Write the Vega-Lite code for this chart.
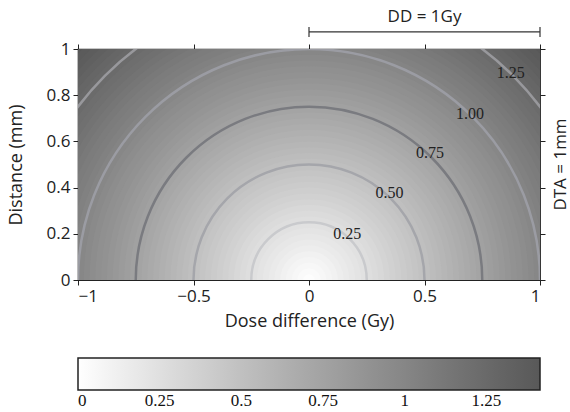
{
  "$schema": "https://vega.github.io/schema/vega-lite/v6.json",
  "width": 462,
  "height": 231,
  "autosize": "none",
  "padding": {"left": 78, "top": 49, "right": 30, "bottom": 132},
  "background": "white",
  "datasets": {
    "bands": [
      {"r":1.425,"gamma":1.4125},{"r":1.4,"gamma":1.3875},{"r":1.375,"gamma":1.3625},{"r":1.35,"gamma":1.3375},
      {"r":1.325,"gamma":1.3125},{"r":1.3,"gamma":1.2875},{"r":1.275,"gamma":1.2625},{"r":1.25,"gamma":1.2375},
      {"r":1.225,"gamma":1.2125},{"r":1.2,"gamma":1.1875},{"r":1.175,"gamma":1.1625},{"r":1.15,"gamma":1.1375},
      {"r":1.125,"gamma":1.1125},{"r":1.1,"gamma":1.0875},{"r":1.075,"gamma":1.0625},{"r":1.05,"gamma":1.0375},
      {"r":1.025,"gamma":1.0125},{"r":1.0,"gamma":0.9875},{"r":0.975,"gamma":0.9625},{"r":0.95,"gamma":0.9375},
      {"r":0.925,"gamma":0.9125},{"r":0.9,"gamma":0.8875},{"r":0.875,"gamma":0.8625},{"r":0.85,"gamma":0.8375},
      {"r":0.825,"gamma":0.8125},{"r":0.8,"gamma":0.7875},{"r":0.775,"gamma":0.7625},{"r":0.75,"gamma":0.7375},
      {"r":0.725,"gamma":0.7125},{"r":0.7,"gamma":0.6875},{"r":0.675,"gamma":0.6625},{"r":0.65,"gamma":0.6375},
      {"r":0.625,"gamma":0.6125},{"r":0.6,"gamma":0.5875},{"r":0.575,"gamma":0.5625},{"r":0.55,"gamma":0.5375},
      {"r":0.525,"gamma":0.5125},{"r":0.5,"gamma":0.4875},{"r":0.475,"gamma":0.4625},{"r":0.45,"gamma":0.4375},
      {"r":0.425,"gamma":0.4125},{"r":0.4,"gamma":0.3875},{"r":0.375,"gamma":0.3625},{"r":0.35,"gamma":0.3375},
      {"r":0.325,"gamma":0.3125},{"r":0.3,"gamma":0.2875},{"r":0.275,"gamma":0.2625},{"r":0.25,"gamma":0.2375},
      {"r":0.225,"gamma":0.2125},{"r":0.2,"gamma":0.1875},{"r":0.175,"gamma":0.1625},{"r":0.15,"gamma":0.1375},
      {"r":0.125,"gamma":0.1125},{"r":0.1,"gamma":0.0875},{"r":0.075,"gamma":0.0625},{"r":0.05,"gamma":0.0375},
      {"r":0.025,"gamma":0.0125}
    ],
    "contours": [
      {"level": 0.25}, {"level": 0.5}, {"level": 0.75}, {"level": 1.0}, {"level": 1.25}
    ],
    "labels": [
      {"x": 0.166, "y": 0.198, "label": "0.25"},
      {"x": 0.348, "y": 0.375, "label": "0.50"},
      {"x": 0.524, "y": 0.551, "label": "0.75"},
      {"x": 0.697, "y": 0.717, "label": "1.00"},
      {"x": 0.873, "y": 0.898, "label": "1.25"}
    ],
    "ddline": [{"x": 0, "x2": 1, "y": 1.074}],
    "ddticks": [{"x": 0, "y": 1.052, "y2": 1.095}, {"x": 1, "y": 1.052, "y2": 1.095}],
    "annot": [
      {"x": 0.5, "y": 1.14, "text": "DD = 1Gy", "angle": 0},
      {"x": 1.09, "y": 0.5, "text": "DTA = 1mm", "angle": 270}
    ]
  },
  "layer": [
    {
      "data": {"name": "bands"},
      "mark": {"type": "arc", "theta": -1.5708, "theta2": 1.5708, "clip": true},
      "encoding": {
        "x": {"datum": 0, "type": "quantitative", "scale": {"domain": [-1, 1], "nice": false, "zero": false},
              "axis": {"orient": "bottom", "values": [-1, -0.5, 0, 0.5, 1], "format": "~g", "title": "Dose difference (Gy)", "labelPadding": 3, "titlePadding": 8}},
        "y": {"datum": 0, "type": "quantitative", "scale": {"domain": [0, 1], "nice": false, "zero": false},
              "axis": {"orient": "left", "values": [0, 0.2, 0.4, 0.6, 0.8, 1], "format": "~g", "title": "Distance (mm)", "labelPadding": 3, "titlePadding": 21}},
        "radius": {"field": "r", "type": "quantitative", "stack": false, "scale": {"type": "linear", "domain": [0, 1], "range": [0, 231], "zero": true}},
        "fill": {"field": "gamma", "type": "quantitative",
                 "scale": {"domain": [0, 1.4142], "range": ["#ffffff", "#585858"], "nice": false, "zero": false},
                 "legend": {"orient": "none", "legendX": 0, "legendY": 309, "direction": "horizontal", "title": null,
                            "gradientLength": 462, "gradientThickness": 32, "gradientStrokeColor": "#222", "gradientStrokeWidth": 1.5,
                            "values": [0, 0.25, 0.5, 0.75, 1, 1.25], "format": ".3~g",
                            "labelFont": "Liberation Serif", "labelFontSize": 17, "labelColor": "#111", "labelOffset": 3}},
        "order": {"field": "r", "sort": "descending"}
      }
    },
    {
      "data": {"name": "contours"},
      "mark": {"type": "arc", "theta": -1.5708, "theta2": 1.5708, "clip": true, "filled": false, "fill": null},
      "encoding": {
        "x": {"datum": 0, "type": "quantitative", "scale": {"domain": [-1, 1], "nice": false, "zero": false},
              "axis": {"orient": "top", "values": [-1, -0.5, 0, 0.5, 1], "labels": false, "title": null}},
        "y": {"datum": 0, "type": "quantitative", "scale": {"domain": [0, 1], "nice": false, "zero": false},
              "axis": {"orient": "right", "values": [0, 0.2, 0.4, 0.6, 0.8, 1], "labels": false, "title": null}},
        "radius": {"field": "level", "type": "quantitative", "stack": false},
        "radius2": {"field": "level"},
        "stroke": {"field": "level", "type": "ordinal",
                   "scale": {"domain": [0.25, 0.5, 0.75, 1.0, 1.25], "range": ["#c9cacd", "#a5a6ab", "#7a7b80", "#9b9ca3", "#98989c"]},
                   "legend": null},
        "strokeWidth": {"field": "level", "type": "ordinal",
                   "scale": {"domain": [0.25, 0.5, 0.75, 1.0, 1.25], "range": [2.5, 2.5, 2.5, 2.5, 1]},
                   "legend": null}
      }
    },
    {
      "data": {"name": "labels"},
      "mark": {"type": "text", "font": "Liberation Serif", "fontSize": 16, "color": "#222", "align": "center", "baseline": "middle"},
      "encoding": {
        "x": {"field": "x", "type": "quantitative", "scale": {"domain": [-1, 1], "nice": false, "zero": false}, "axis": null},
        "y": {"field": "y", "type": "quantitative", "scale": {"domain": [0, 1], "nice": false, "zero": false}, "axis": null},
        "text": {"field": "label"}
      }
    },
    {
      "data": {"name": "ddline"},
      "mark": {"type": "rule", "color": "#333", "strokeWidth": 1.2},
      "encoding": {
        "x": {"field": "x", "type": "quantitative", "scale": {"domain": [-1, 1], "nice": false, "zero": false}, "axis": null},
        "x2": {"field": "x2"},
        "y": {"field": "y", "type": "quantitative", "scale": {"domain": [0, 1], "nice": false, "zero": false}, "axis": null}
      }
    },
    {
      "data": {"name": "ddticks"},
      "mark": {"type": "rule", "color": "#333", "strokeWidth": 1.2},
      "encoding": {
        "x": {"field": "x", "type": "quantitative", "scale": {"domain": [-1, 1], "nice": false, "zero": false}, "axis": null},
        "y": {"field": "y", "type": "quantitative", "scale": {"domain": [0, 1], "nice": false, "zero": false}, "axis": null},
        "y2": {"field": "y2"}
      }
    },
    {
      "data": {"name": "annot"},
      "mark": {"type": "text", "font": "Open Sans", "fontSize": 17, "color": "#222", "align": "center", "baseline": "middle"},
      "encoding": {
        "x": {"field": "x", "type": "quantitative", "scale": {"domain": [-1, 1], "nice": false, "zero": false}, "axis": null},
        "y": {"field": "y", "type": "quantitative", "scale": {"domain": [0, 1], "nice": false, "zero": false}, "axis": null},
        "text": {"field": "text"},
        "angle": {"field": "angle", "type": "quantitative", "scale": null}
      }
    }
  ],
  "resolve": {"axis": {"x": "independent", "y": "independent"}},
  "config": {
    "view": {"stroke": "#222", "strokeWidth": 1.2},
    "axis": {
      "grid": false, "domain": false, "tickColor": "#222", "tickSize": 5, "tickWidth": 1,
      "labelFont": "Open Sans", "labelFontSize": 17, "labelColor": "#222",
      "titleFont": "Open Sans", "titleFontSize": 18, "titleFontWeight": "normal", "titleColor": "#222"
    }
  }
}
